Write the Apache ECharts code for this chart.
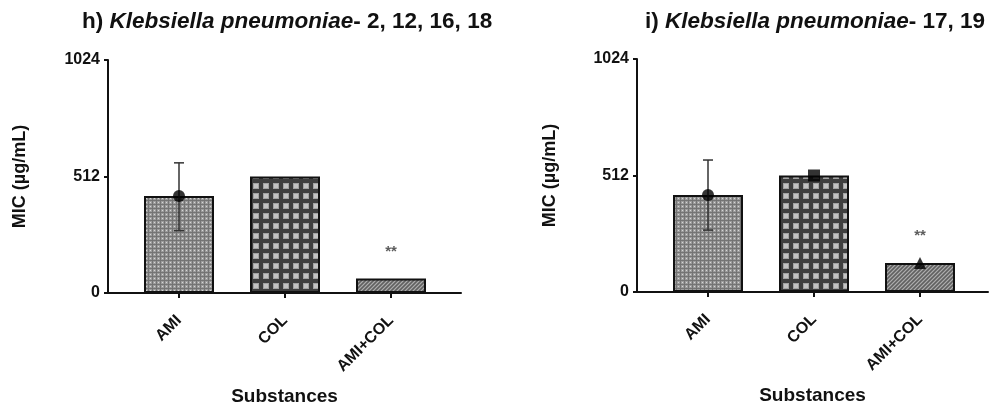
<!DOCTYPE html>
<html>
<head>
<meta charset="utf-8">
<script src="https://cdn.jsdelivr.net/npm/echarts@6/dist/echarts.min.js"></script>
<style>
html,body{margin:0;padding:0;background:#fff;}
#chart{width:996px;height:414px;}
</style>
</head>
<body>
<div id="chart"></div>
<script>
// ---- data ----
const categories = ['AMI', 'COL', 'AMI+COL'];
const yTicks = [0, 512, 1024];

const leftTitle = ['h) ', 'Klebsiella pneumoniae', '- 2, 12, 16, 18'];
const leftMean = [426, 512, 64];
const leftErrLow = [274, null, null];
const leftErrHigh = [572, null, null];
const leftMarkers = ['circle', null, null];
const leftSig = ['', '', '**'];

const rightTitle = ['i) ', 'Klebsiella pneumoniae', '- 17, 19'];
const rightMean = [426, 512, 128];
const rightErrLow = [272, null, null];
const rightErrHigh = [580, null, null];
const rightMarkers = ['circle', 'rect', 'triangle'];
const rightSig = ['', '', '**'];

const yName = 'MIC (µg/mL)';
const xName = 'Substances';

// ---- patterns ----
function makePattern(size, draw) {
  const c = document.createElement('canvas');
  c.width = size; c.height = size;
  const g = c.getContext('2d');
  draw(g, size);
  return { image: c, repeat: 'repeat' };
}
const patDots = makePattern(4, (g) => {
  g.fillStyle = '#9c9c9c'; g.fillRect(0, 0, 4, 4);
  g.fillStyle = '#747474'; g.fillRect(0, 0, 4, 1); g.fillRect(0, 0, 1, 4);
  g.fillStyle = '#d6d6d6'; g.fillRect(2, 2, 1, 1);
});
const patGrid = makePattern(10, (g) => {
  g.fillStyle = '#3e3e3e'; g.fillRect(0, 0, 10, 10);
  g.fillStyle = '#a2a2a2'; g.fillRect(3, 3, 6, 6);
  g.fillStyle = '#c2c2c2'; g.fillRect(4, 4, 4, 4);
});
const patHatch = makePattern(4, (g) => {
  g.fillStyle = '#7a7a7a'; g.fillRect(0, 0, 4, 4);
  g.fillStyle = '#ababab';
  for (let i = 0; i < 4; i++) g.fillRect((3 - i + 4) % 4, i, 1, 1);
  g.fillStyle = '#606060';
  for (let i = 0; i < 4; i++) g.fillRect((1 - i + 8) % 4, i, 1, 1);
});
const patterns = [patDots, patGrid, patHatch];

const FONT = 'Liberation Sans, Arial, sans-serif';
const INK = '#111';

function titleOf(parts, left) {
  return {
    left: left, top: 5,
    text: '{n|' + parts[0] + '}{i|' + parts[1] + '}{n|' + parts[2] + '}',
    textStyle: {
      rich: {
        n: { fontFamily: FONT, fontWeight: 'bold', fontSize: 22.5, color: INK },
        i: { fontFamily: FONT, fontWeight: 'bold', fontStyle: 'italic', fontSize: 22.5, color: INK }
      }
    }
  };
}

const panels = [
  { title: leftTitle, titleLeft: 77, axisX: 108, catLeft: 126, catWidth: 318, lineRight: 461, top: 60, bottom: 293,
    mean: leftMean, lo: leftErrLow, hi: leftErrHigh, markers: leftMarkers, sig: leftSig, nameGap: 79 },
  { title: rightTitle, titleLeft: 640, axisX: 637, catLeft: 655, catWidth: 318, lineRight: 988, top: 59, bottom: 292,
    mean: rightMean, lo: rightErrLow, hi: rightErrHigh, markers: rightMarkers, sig: rightSig, nameGap: 78 }
];

const option = {
  animation: false,
  backgroundColor: '#fff',
  title: [], grid: [], xAxis: [], yAxis: [], series: []
};

panels.forEach((p, k) => {
  const gBar = k * 2, gLine = k * 2 + 1;
  option.title.push(titleOf(p.title, p.titleLeft));
  option.grid.push({ left: p.catLeft, width: p.catWidth, top: p.top, height: p.bottom - p.top, containLabel: false });
  option.grid.push({ left: p.axisX, width: p.lineRight - p.axisX, top: p.top, height: p.bottom - p.top, containLabel: false });

  option.xAxis.push({
    type: 'category', gridIndex: gBar, data: categories,
    axisLine: { show: false },
    axisTick: { show: true, alignWithLabel: true, length: 5, lineStyle: { color: INK, width: 2 } },
    axisLabel: { rotate: 45, margin: 25, fontFamily: FONT, fontWeight: 'bold', fontSize: 16, color: INK, interval: 0 },
    splitLine: { show: false }
  });
  option.xAxis.push({
    type: 'value', gridIndex: gLine, min: 0, max: 1,
    axisLine: { show: true, lineStyle: { color: INK, width: 2 } },
    axisTick: { show: false }, axisLabel: { show: false }, splitLine: { show: false },
    name: xName, nameLocation: 'middle', nameGap: 94,
    nameTextStyle: { fontFamily: FONT, fontWeight: 'bold', fontSize: 19, color: INK }
  });
  option.yAxis.push({
    type: 'value', gridIndex: gBar, min: yTicks[0], max: yTicks[yTicks.length - 1], interval: yTicks[1] - yTicks[0],
    offset: p.catLeft - p.axisX,
    axisLine: { show: true, lineStyle: { color: INK, width: 2 } },
    axisTick: { show: true, length: 4, lineStyle: { color: INK, width: 2 } },
    axisLabel: { margin: 8, fontFamily: FONT, fontWeight: 'bold', fontSize: 16, color: INK, formatter: (v) => String(v) },
    splitLine: { show: false },
    name: yName, nameLocation: 'middle', nameRotate: 90, nameGap: p.nameGap,
    nameTextStyle: { fontFamily: FONT, fontWeight: 'bold', fontSize: 18, color: INK }
  });
  option.yAxis.push({ type: 'value', gridIndex: gLine, min: 0, max: 1024, show: false });

  option.series.push({
    type: 'bar', xAxisIndex: gBar, yAxisIndex: gBar, barWidth: 70, z: 2,
    data: p.mean.map((v, i) => ({ value: v, itemStyle: { color: patterns[i], borderColor: INK, borderWidth: 2 } }))
  });
  const errData = [];
  p.lo.forEach((l, i) => { if (l != null) errData.push([i, l, p.hi[i]]); });
  option.series.push({
    type: 'custom', xAxisIndex: gBar, yAxisIndex: gBar, z: 3,
    data: errData,
    renderItem: function (params, api) {
      const top = api.coord([api.value(0), api.value(2)]);
      const bot = api.coord([api.value(0), api.value(1)]);
      const cap = 5;
      const st = { stroke: '#333', lineWidth: 1.5 };
      return {
        type: 'group', children: [
          { type: 'line', shape: { x1: top[0], y1: top[1], x2: bot[0], y2: bot[1] }, style: st },
          { type: 'line', shape: { x1: top[0] - cap, y1: top[1], x2: top[0] + cap, y2: top[1] }, style: st },
          { type: 'line', shape: { x1: bot[0] - cap, y1: bot[1], x2: bot[0] + cap, y2: bot[1] }, style: st }
        ]
      };
    }
  });
  const mk = [];
  p.markers.forEach((s, i) => { if (s) mk.push({ value: [i, p.mean[i]], symbol: s, symbolSize: 12 }); });
  option.series.push({
    type: 'scatter', xAxisIndex: gBar, yAxisIndex: gBar, z: 4,
    itemStyle: { color: '#000' }, data: mk
  });
  const sg = [];
  p.sig.forEach((s, i) => { if (s) sg.push({ value: [i, p.mean[i] + 117], name: s }); });
  option.series.push({
    type: 'scatter', xAxisIndex: gBar, yAxisIndex: gBar, z: 4, symbolSize: 1,
    itemStyle: { color: 'rgba(0,0,0,0)' },
    label: { show: true, position: 'inside', formatter: (d) => d.name, fontFamily: FONT, fontWeight: 'bold', fontSize: 15, color: '#333' },
    data: sg
  });
});

const chart = echarts.init(document.getElementById('chart'), null, { renderer: 'canvas' });
chart.setOption(option);
</script>
</body>
</html>
